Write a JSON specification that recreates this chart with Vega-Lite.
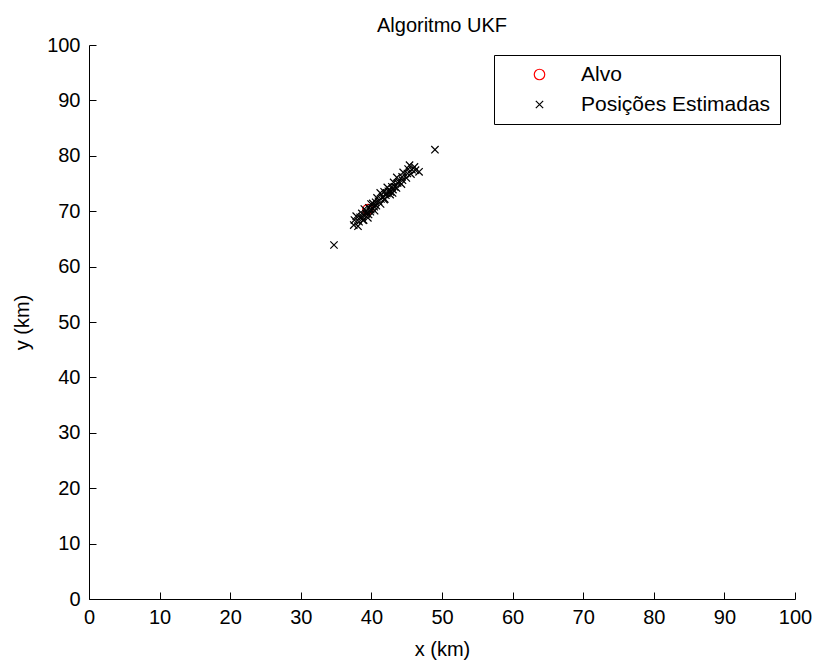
{
  "$schema": "https://vega.github.io/schema/vega-lite/v6.json",
  "width": 706,
  "height": 554,
  "autosize": {"type": "none"},
  "padding": {"left": 89, "top": 45, "right": 19, "bottom": 61},
  "background": "white",
  "config": {
    "view": {"stroke": null},
    "font": "Liberation Sans",
    "axis": {
      "domainColor": "black", "domainWidth": 1, "tickColor": "black", "tickWidth": 1,
      "labelColor": "black", "titleColor": "black", "labelFont": "Liberation Sans", "titleFont": "Liberation Sans",
      "labelFontSize": 20, "titleFontSize": 20, "titleFontWeight": "normal", "grid": false
    }
  },
  "title": {"text": "Algoritmo UKF", "fontSize": 20, "fontWeight": "normal", "font": "Liberation Sans", "color": "black", "baseline": "alphabetic", "offset": -13, "dy": 4},
  "data": {"values": [
    {"x": 39.5, "y": 70.3, "series": "Alvo"},
    {"x": 37.5, "y": 67.5, "series": "Posições Estimadas"},
    {"x": 38.1, "y": 67.3, "series": "Posições Estimadas"},
    {"x": 37.6, "y": 68.4, "series": "Posições Estimadas"},
    {"x": 38.25, "y": 68.1, "series": "Posições Estimadas"},
    {"x": 37.85, "y": 69.1, "series": "Posições Estimadas"},
    {"x": 38.8, "y": 68.4, "series": "Posições Estimadas"},
    {"x": 38.7, "y": 69.0, "series": "Posições Estimadas"},
    {"x": 38.65, "y": 69.6, "series": "Posições Estimadas"},
    {"x": 39.5, "y": 68.8, "series": "Posições Estimadas"},
    {"x": 39.3, "y": 69.5, "series": "Posições Estimadas"},
    {"x": 39.0, "y": 70.4, "series": "Posições Estimadas"},
    {"x": 39.85, "y": 69.9, "series": "Posições Estimadas"},
    {"x": 39.65, "y": 70.6, "series": "Posições Estimadas"},
    {"x": 40.45, "y": 70.1, "series": "Posições Estimadas"},
    {"x": 40.1, "y": 70.6, "series": "Posições Estimadas"},
    {"x": 39.95, "y": 71.3, "series": "Posições Estimadas"},
    {"x": 40.7, "y": 71.0, "series": "Posições Estimadas"},
    {"x": 40.6, "y": 71.6, "series": "Posições Estimadas"},
    {"x": 41.3, "y": 71.3, "series": "Posições Estimadas"},
    {"x": 40.8, "y": 72.4, "series": "Posições Estimadas"},
    {"x": 41.35, "y": 72.2, "series": "Posições Estimadas"},
    {"x": 41.8, "y": 72.1, "series": "Posições Estimadas"},
    {"x": 41.25, "y": 73.3, "series": "Posições Estimadas"},
    {"x": 42.05, "y": 72.9, "series": "Posições Estimadas"},
    {"x": 41.8, "y": 73.5, "series": "Posições Estimadas"},
    {"x": 42.65, "y": 73.0, "series": "Posições Estimadas"},
    {"x": 42.4, "y": 73.6, "series": "Posições Estimadas"},
    {"x": 42.25, "y": 74.3, "series": "Posições Estimadas"},
    {"x": 43.05, "y": 73.9, "series": "Posições Estimadas"},
    {"x": 42.9, "y": 74.4, "series": "Posições Estimadas"},
    {"x": 43.55, "y": 74.2, "series": "Posições Estimadas"},
    {"x": 43.15, "y": 75.2, "series": "Posições Estimadas"},
    {"x": 43.7, "y": 75.1, "series": "Posições Estimadas"},
    {"x": 44.25, "y": 74.9, "series": "Posições Estimadas"},
    {"x": 43.6, "y": 76.1, "series": "Posições Estimadas"},
    {"x": 44.4, "y": 75.6, "series": "Posições Estimadas"},
    {"x": 44.35, "y": 76.2, "series": "Posições Estimadas"},
    {"x": 44.95, "y": 76.0, "series": "Posições Estimadas"},
    {"x": 44.5, "y": 77.0, "series": "Posições Estimadas"},
    {"x": 45.1, "y": 76.8, "series": "Posições Estimadas"},
    {"x": 45.6, "y": 76.7, "series": "Posições Estimadas"},
    {"x": 45.2, "y": 77.6, "series": "Posições Estimadas"},
    {"x": 45.75, "y": 77.5, "series": "Posições Estimadas"},
    {"x": 45.4, "y": 78.3, "series": "Posições Estimadas"},
    {"x": 46.25, "y": 77.4, "series": "Posições Estimadas"},
    {"x": 46.1, "y": 78.0, "series": "Posições Estimadas"},
    {"x": 46.75, "y": 77.1, "series": "Posições Estimadas"},
    {"x": 39.3, "y": 70.0, "series": "Posições Estimadas"},
    {"x": 39.9, "y": 70.3, "series": "Posições Estimadas"},
    {"x": 40.4, "y": 70.8, "series": "Posições Estimadas"},
    {"x": 41.0, "y": 71.8, "series": "Posições Estimadas"},
    {"x": 41.6, "y": 72.6, "series": "Posições Estimadas"},
    {"x": 42.2, "y": 73.2, "series": "Posições Estimadas"},
    {"x": 42.7, "y": 73.5, "series": "Posições Estimadas"},
    {"x": 43.3, "y": 74.4, "series": "Posições Estimadas"},
    {"x": 43.9, "y": 75.3, "series": "Posições Estimadas"},
    {"x": 40.2, "y": 71.4, "series": "Posições Estimadas"},
    {"x": 39.6, "y": 69.4, "series": "Posições Estimadas"},
    {"x": 38.4, "y": 68.9, "series": "Posições Estimadas"},
    {"x": 38.9, "y": 68.4, "series": "Posições Estimadas"},
    {"x": 41.9, "y": 72.2, "series": "Posições Estimadas"},
    {"x": 43.0, "y": 73.3, "series": "Posições Estimadas"},
    {"x": 34.7, "y": 63.9, "series": "Posições Estimadas"},
    {"x": 49.0, "y": 81.1, "series": "Posições Estimadas"}
  ]},
  "layer": [
    {
      "mark": {"type": "point", "filled": false, "strokeWidth": 1.2, "opacity": 1},
      "encoding": {
        "x": {"field": "x", "type": "quantitative", "scale": {"domain": [0, 100], "nice": false, "zero": false},
          "axis": {"title": "x (km)", "values": [0,10,20,30,40,50,60,70,80,90,100], "ticks": false, "labelPadding": 8, "titlePadding": 12, "labelFlush": false}},
        "y": {"field": "y", "type": "quantitative", "scale": {"domain": [0, 100], "nice": false, "zero": false},
          "axis": {"title": "y (km)", "values": [0,10,20,30,40,50,60,70,80,90,100], "ticks": false, "labelPadding": 9, "titlePadding": 14, "labelFlush": false}},
        "color": {"field": "series", "type": "nominal", "scale": {"domain": ["Alvo", "Posições Estimadas"], "range": ["#ff0000", "#000000"]},
          "legend": {"title": null, "orient": "none", "legendX": 405, "legendY": 10, "strokeColor": "black", "fillColor": "white", "padding": 9,
            "symbolOffset": 26, "labelOffset": 31, "rowPadding": 8, "labelFontSize": 21, "labelFont": "Liberation Sans", "labelColor": "black", "symbolStrokeWidth": 1.2, "symbolSize": 110, "labelLimit": 400, "cornerRadius": 0}},
        "shape": {"field": "series", "type": "nominal", "scale": {"domain": ["Alvo", "Posições Estimadas"], "range": ["circle", "M-0.7,-0.7L0.7,0.7M-0.7,0.7L0.7,-0.7"]}, "legend": null},
        "size": {"value": 110}
      }
    },
    {
      "mark": {"type": "point", "opacity": 0},
      "encoding": {
        "x": {"field": "x", "type": "quantitative", "scale": {"domain": [0, 100], "nice": false, "zero": false},
          "axis": {"orient": "top", "offset": -554, "title": null, "labels": false, "domain": false, "ticks": true, "tickColor": "black", "tickWidth": 1, "tickSize": 7, "values": [0,10,20,30,40,50,60,70,80,90,100]}},
        "y": {"field": "y", "type": "quantitative", "scale": {"domain": [0, 100], "nice": false, "zero": false},
          "axis": {"orient": "right", "offset": -706, "title": null, "labels": false, "domain": false, "ticks": true, "tickColor": "black", "tickWidth": 1, "tickSize": 7, "values": [0,10,20,30,40,50,60,70,80,90,100]}}
      }
    }
  ],
  "resolve": {"scale": {"x": "independent", "y": "independent"}, "axis": {"x": "independent", "y": "independent"}}
}
